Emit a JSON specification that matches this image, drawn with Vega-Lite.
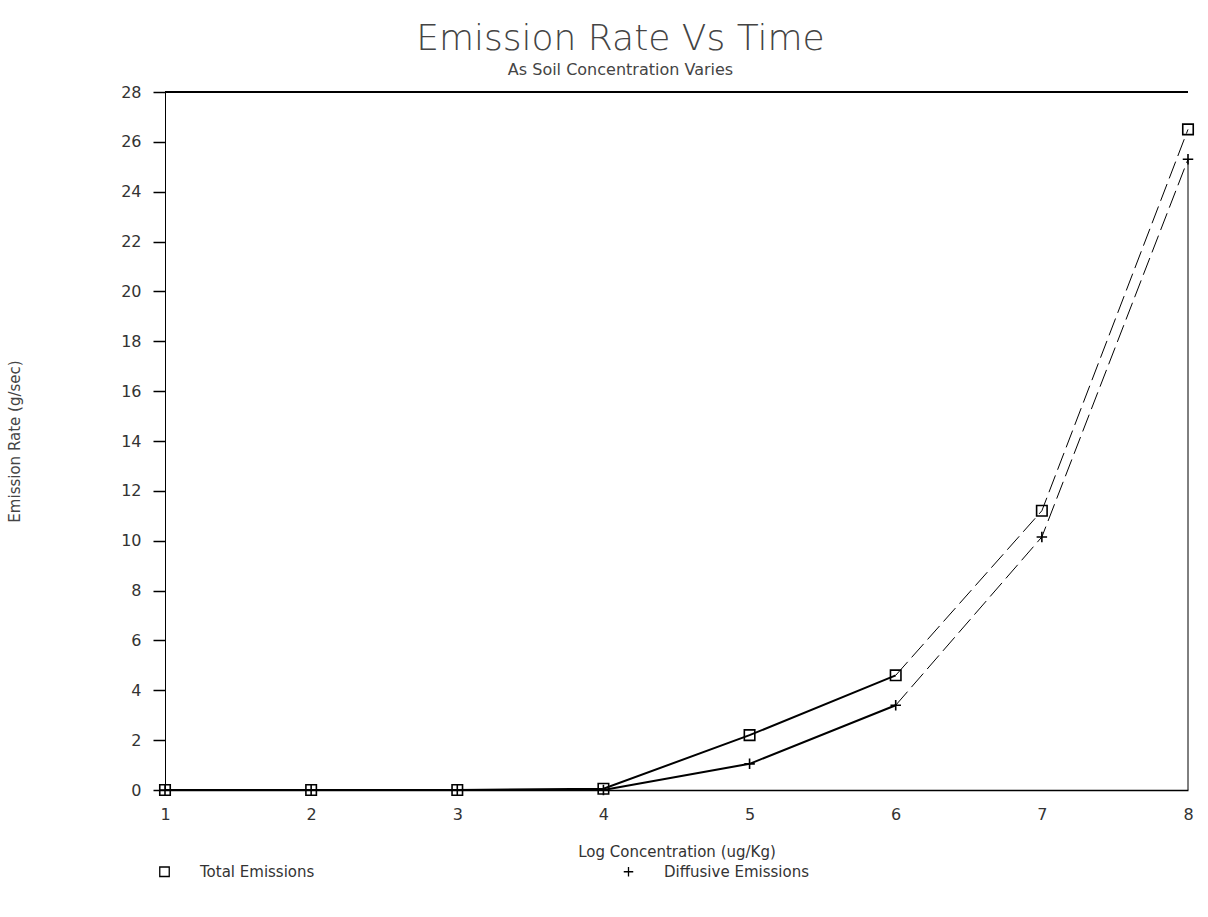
{
  "$schema": "https://vega.github.io/schema/vega-lite/v6.json",
  "width": 1023,
  "height": 698,
  "autosize": {"type": "none"},
  "padding": {"left": 165, "top": 92, "right": 20, "bottom": 127},
  "background": "white",
  "title": {
    "text": "Emission Rate Vs  Time",
    "subtitle": "As Soil Concentration Varies",
    "anchor": "middle",
    "dx": -56,
    "fontSize": 36,
    "fontWeight": 300,
    "font": "DejaVu Sans",
    "color": "#444",
    "subtitleFontSize": 16,
    "subtitleFont": "DejaVu Sans",
    "subtitleColor": "#444",
    "subtitlePadding": 4,
    "offset": 5
  },
  "data": {
    "values": [
      {"x": 1, "value": 0, "series": "Total Emissions"},
      {"x": 2, "value": 0, "series": "Total Emissions"},
      {"x": 3, "value": 0, "series": "Total Emissions"},
      {"x": 4, "value": 0.05, "series": "Total Emissions"},
      {"x": 5, "value": 2.2, "series": "Total Emissions"},
      {"x": 6, "value": 4.6, "series": "Total Emissions"},
      {"x": 7, "value": 11.2, "series": "Total Emissions"},
      {"x": 8, "value": 26.5, "series": "Total Emissions"},
      {"x": 1, "value": 0, "series": "Diffusive Emissions"},
      {"x": 2, "value": 0, "series": "Diffusive Emissions"},
      {"x": 3, "value": 0, "series": "Diffusive Emissions"},
      {"x": 4, "value": 0, "series": "Diffusive Emissions"},
      {"x": 5, "value": 1.05, "series": "Diffusive Emissions"},
      {"x": 6, "value": 3.4, "series": "Diffusive Emissions"},
      {"x": 7, "value": 10.15, "series": "Diffusive Emissions"},
      {"x": 8, "value": 25.3, "series": "Diffusive Emissions"}
    ]
  },
  "encoding": {
    "x": {
      "field": "x", "type": "quantitative",
      "scale": {"domain": [1, 8], "nice": false, "zero": false},
      "axis": {
        "title": "Log Concentration (ug/Kg)",
        "values": [1, 2, 3, 4, 5, 6, 7, 8],
        "format": "d",
        "grid": false,
        "ticks": false,
        "labelFlush": false,
        "domain": true,
        "domainColor": "black",
        "domainWidth": 1.5,
        "labelPadding": 16,
        "labelFontSize": 16,
        "labelColor": "#333",
        "labelFont": "DejaVu Sans",
        "titleFont": "DejaVu Sans",
        "titleFontSize": 15,
        "titleFontWeight": "normal",
        "titleColor": "#333",
        "titlePadding": 22
      }
    },
    "y": {
      "field": "value", "type": "quantitative",
      "scale": {"domain": [0, 28], "nice": false},
      "axis": {
        "title": "Emission Rate (g/sec)",
        "values": [0, 2, 4, 6, 8, 10, 12, 14, 16, 18, 20, 22, 24, 26, 28],
        "grid": false,
        "tickSize": 12,
        "tickColor": "black",
        "tickWidth": 1.5,
        "domainColor": "black",
        "domainWidth": 1,
        "labelPadding": 12,
        "labelFontSize": 16,
        "labelColor": "#333",
        "labelFont": "DejaVu Sans",
        "titleFont": "DejaVu Sans",
        "titleFontSize": 15,
        "titleFontWeight": "normal",
        "titleColor": "#444",
        "titleX": -143,
        "titleY": 349,
        "titleAnchor": "middle"
      }
    }
  },
  "layer": [
    {
      "mark": {"type": "rule", "color": "black", "strokeWidth": 1.5},
      "encoding": {"x": null, "y": {"datum": 28}}
    },
    {
      "transform": [{"filter": "datum.x <= 6"}],
      "mark": {"type": "line", "color": "black", "strokeWidth": 2},
      "encoding": {"detail": {"field": "series"}}
    },
    {
      "transform": [{"filter": "datum.x >= 6"}],
      "mark": {"type": "line", "color": "black", "strokeWidth": 1, "strokeDash": [18, 6]},
      "encoding": {"detail": {"field": "series"}}
    },
    {
      "transform": [{"filter": "datum.x == 8 && datum.series == 'Diffusive Emissions'"}],
      "mark": {"type": "rule", "color": "black", "strokeWidth": 1},
      "encoding": {"y2": {"datum": 0}}
    },
    {
      "mark": {"type": "point", "filled": false, "stroke": "black", "strokeWidth": 1.6, "size": 110, "opacity": 1},
      "encoding": {
        "shape": {
          "field": "series", "type": "nominal",
          "scale": {"domain": ["Total Emissions", "Diffusive Emissions"], "range": ["square", "M-1,0L1,0M0,-1L0,1"]},
          "legend": {
            "title": null,
            "orient": "none",
            "legendX": -8,
            "legendY": 772,
            "direction": "horizontal",
            "labelFontSize": 15,
            "labelFont": "DejaVu Sans",
            "labelColor": "#333",
            "labelOffset": 28,
            "symbolStrokeColor": "black",
            "symbolFillColor": "transparent",
            "symbolStrokeWidth": 1.3,
            "symbolSize": 90,
            "columnPadding": 306
          }
        }
      }
    }
  ],
  "config": {"view": {"stroke": null}}
}
